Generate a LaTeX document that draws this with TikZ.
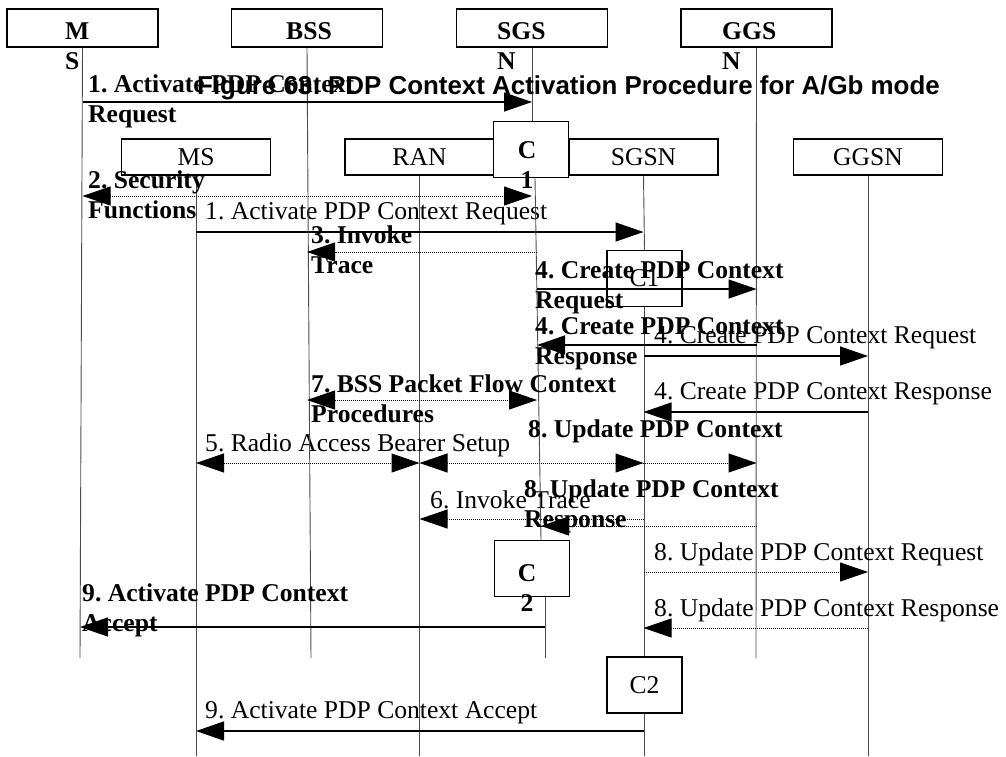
\documentclass[tikz,border=0pt]{standalone}
\usepackage{fontspec}
\setmainfont{Liberation Serif}
\newfontfamily\titlefont{Liberation Sans}
\usetikzlibrary{arrows.meta, positioning}
\frenchspacing

\begin{document}
\begin{tikzpicture}[x=1pt, y=-1pt,
  lbox/.style={draw, fill=white, line width=1.2pt, minimum width=149pt, minimum height=36pt, inner sep=0pt, font=\fontsize{25.6}{29}\selectfont},
  ubox/.style={draw, fill=white, line width=1.2pt, minimum width=151pt, minimum height=38pt, inner sep=0pt},
  cbox/.style={draw, line width=1.2pt, minimum width=75pt, minimum height=56pt, inner sep=0pt, font=\fontsize{25.6}{29}\selectfont},
  btxt/.style={font=\fontsize{25.6}{30}\selectfont\bfseries, inner sep=0pt},
  blbl/.style={font=\fontsize{25.6}{30}\selectfont\bfseries, align=left, anchor=west, inner sep=0pt},
  nlbl/.style={font=\fontsize{25.6}{29}\selectfont, anchor=west, inner sep=0pt},
  life/.style={draw=black!70, line width=0.9pt},
  msg/.style={line width=1.5pt, -{Triangle[length=28pt,width=19pt]}},
  dmsg/.style={line width=1pt, densely dotted, -{Triangle[length=28pt,width=19pt]}},
  bmsg/.style={line width=1pt, densely dotted, {Triangle[length=28pt,width=19pt]}-{Triangle[length=28pt,width=19pt]}},
]
\useasboundingbox (0,0) rectangle (1006,756);

% Iu mode (lower diagram)
\node[lbox] (ms2) at (196,157) {MS};
\node[lbox] (ran2) at (419.5,157) {RAN};
\node[lbox] (sgsn2) at (643.5,157) {SGSN};
\node[lbox] (ggsn2) at (868,157) {GGSN};
\node[cbox] (c1b) at (644.5,278.5) {C1};
\node[cbox] (c2b) at (644.5,685) {C2};

\draw[life] (ms2.south) -- (ms2 |- 0,756);
\draw[life] (ran2.south) -- (ran2 |- 0,756);
\draw[life] (sgsn2.south) -- (c1b.north);
\draw[life] (c1b.south) -- (c2b.north);
\draw[life] (c2b.south) -- (c2b |- 0,756);
\draw[life] (ggsn2.south) -- (ggsn2 |- 0,756);

\draw[msg] (ms2 |- 0,232) -- (sgsn2 |- 0,232);
\node[nlbl] (l1) at (205,214) {1. Activate PDP Context Request};
\draw[msg] (sgsn2 |- 0,356) -- (ggsn2 |- 0,356);
\node[nlbl] (l4a) at (654,338) {4. Create PDP Context Request};
\draw[msg] (ggsn2 |- 0,412) -- (sgsn2 |- 0,412);
\node[nlbl] (l4b) at (654,394) {4. Create PDP Context Response};
\draw[bmsg] (ms2 |- 0,463) -- (ran2 |- 0,463);
\draw[bmsg] (ran2 |- 0,463) -- (sgsn2 |- 0,463);
\node[nlbl] (l5) at (205,445) {5. Radio Access Bearer Setup};
\draw[dmsg] (sgsn2 |- 0,519) -- (ran2 |- 0,519);
\node[nlbl] (l6) at (430,500) {6. Invoke Trace};
\draw[dmsg] (sgsn2 |- 0,572) -- (ggsn2 |- 0,572);
\node[nlbl] (l8a) at (654,554) {8. Update PDP Context Request};
\draw[dmsg] (ggsn2 |- 0,628) -- (sgsn2 |- 0,628);
\node[nlbl] (l8b) at (654,610) {8. Update PDP Context Response};
\draw[msg] (sgsn2 |- 0,731) -- (ms2 |- 0,731);
\node[nlbl] (l9) at (205,713) {9. Activate PDP Context Accept};

% A/Gb mode (upper diagram)
\node[ubox] (ms1) at (82.5,28) {};
\node[ubox] (bss1) at (307,28) {};
\node[ubox] (sgs1) at (532,28) {};
\node[ubox] (ggs1) at (756.5,28) {};
\node[btxt, align=left, anchor=west] (ms1t) at (65,46.5) {M\\S};
\node[btxt] (bss1t) at (309,31) {BSS};
\node[btxt, align=left, anchor=west] (sgs1t) at (497,46.5) {SGS\\N};
\node[btxt, align=left, anchor=west] (ggs1t) at (722,46.5) {GGS\\N};

\coordinate (ms1e) at (80,658);
\coordinate (bss1e) at (311,658);
\coordinate (sgsa) at (535,178);
\coordinate (sgsb) at (541,540);
\coordinate (sgsl) at (537,0);
\coordinate (ggs1e) at (756,658);

\draw[life] (ms1.south) -- (ms1e);
\draw[life] (bss1.south) -- (bss1e);
\draw[life] (sgs1.south) -- (sgs1 |- 0,121);
\draw[life] (sgsa) -- (sgsb);
\draw[life] (545,597) -- (545,658);
\draw[life] (ggs1.south) -- (ggs1e);

\node[cbox, fill=white] (c1a) at (531,149.5) {};
\node[btxt, align=center] (c1at) at (527,165.5) {C\\1};
\node[cbox, fill=white] (c2a) at (532,568.5) {};
\node[btxt, align=center] (c2at) at (527,588) {C\\2};

\node[font=\titlefont\fontsize{25.9}{30}\selectfont\bfseries, anchor=west, inner sep=0pt] (title) at (197,88) {Figure 63: PDP Context Activation Procedure for A/Gb mode};

\draw[msg] (ms1 |- 0,102) -- (sgs1 |- 0,102);
\node[blbl] (u1) at (88,101.5) {1. Activate PDP Context\\Request};
\draw[bmsg] (ms1 |- 0,196) -- (sgs1 |- 0,196);
\node[blbl] (u2) at (88,195) {2. Security\\Functions};
\draw[dmsg] (sgsl |- 0,252) -- (bss1 |- 0,252);
\node[blbl] (u3) at (311,250) {3. Invoke\\Trace};
\draw[msg] (sgsl |- 0,289) -- (ggs1 |- 0,289);
\node[blbl] (u4a) at (535,288) {4. Create PDP Context\\Request};
\draw[msg] (ggs1 |- 0,345) -- (sgsl |- 0,345);
\node[blbl] (u4b) at (535,344) {4. Create PDP Context\\Response};
\draw[bmsg] (bss1 |- 0,400) -- (sgsl |- 0,400);
\node[blbl] (u7) at (311,399) {7. BSS Packet Flow Context\\Procedures};
\draw[dmsg] (sgsb |- 0,463) -- (ggs1 |- 0,463);
\node[blbl] (u8a) at (528,431) {8. Update PDP Context};
\draw[dmsg] (ggs1 |- 0,526) -- (sgsb |- 0,526);
\node[blbl] (u8b) at (524,506) {8. Update PDP Context\\Response};
\draw[msg] (545,627) -- (ms1e |- 0,627);
\node[blbl] (u9) at (82,610) {9. Activate PDP Context\\Accept};
\end{tikzpicture}
\end{document}
